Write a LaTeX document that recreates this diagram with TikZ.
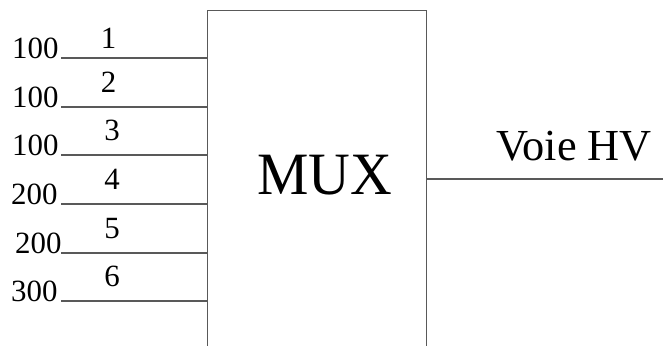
\documentclass[tikz,border=0pt]{standalone}
\usepackage{fontspec}
\setmainfont{Liberation Serif}
\begin{document}
\begin{tikzpicture}[x=1bp,y=-1bp,
  wire/.style={draw=black!65,line width=1.1bp},
  lbl/.style={inner sep=0pt,anchor=base,font=\fontsize{31}{31}\selectfont},
  wlbl/.style={inner sep=0pt,anchor=base west,font=\fontsize{31}{31}\selectfont}]
\useasboundingbox (0,0) rectangle (663,345);
\clip (0,0) rectangle (663,345);
\node (mux) [draw=black!65,line width=1.1bp,anchor=north west,inner sep=0pt,
  minimum width=219bp,minimum height=360bp] at (207,10) {};
\node (muxtxt) [inner sep=0pt,anchor=base,font=\fontsize{58}{58}\selectfont,yscale=1.04] at (324.5,194) {MUX};
\node (voie) [inner sep=0pt,anchor=base west,font=\fontsize{44.5}{44.5}\selectfont] at (496,160) {Voie HV};
\coordinate (out) at (663,179);
\draw[wire] (mux.east |- out) -- (out);
\foreach \i/\y/\v/\lx/\nx/\ny in {1/58/100/12/108.5/48,2/107/100/12/108.5/92,3/155/100/12/112/140,4/204/200/11/112/189,5/253/200/15/112/238,6/301/300/11/112/286}{
  \coordinate (in\i) at (61,\y);
  \draw[wire] (in\i) -- (in\i -| mux.west);
  \node (v\i) [wlbl] at (\lx,\y) {\v};
  \node (n\i) [lbl] at (\nx,\ny) {\i};
}
\end{tikzpicture}
\end{document}
